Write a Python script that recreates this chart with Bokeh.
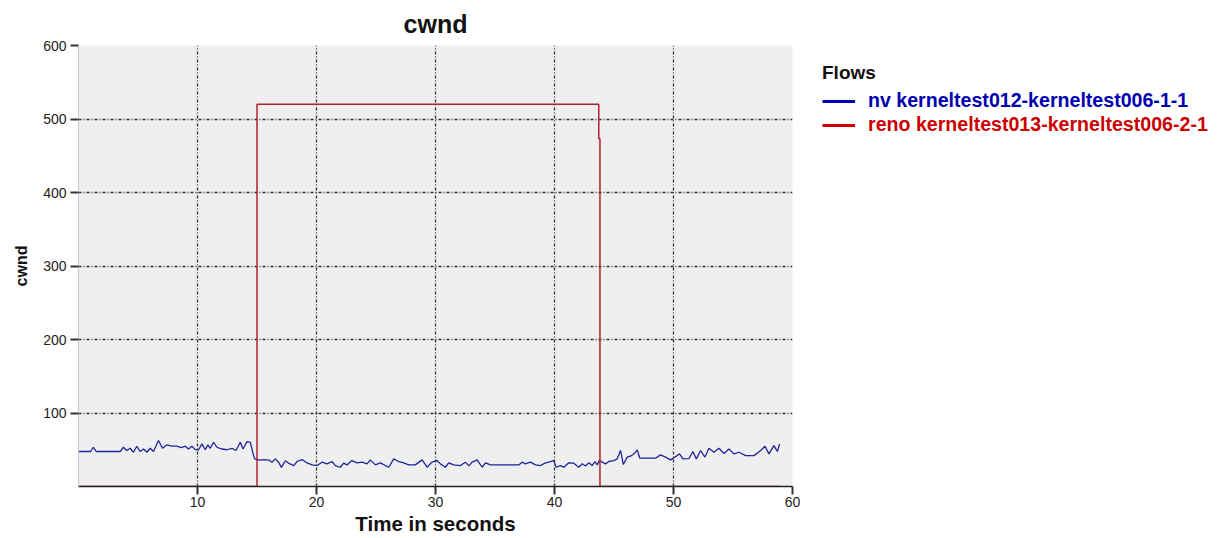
from bokeh.plotting import figure
from bokeh.models import Range1d, FixedTicker, Legend, LegendItem
from bokeh.layouts import row
from bokeh.embed import file_html
from bokeh.resources import INLINE

# ---- data ----
x_ticks = [10, 20, 30, 40, 50, 60]
y_ticks = [100, 200, 300, 400, 500, 600]

blue_name = "nv kerneltest012-kerneltest006-1-1"
red_name = "reno kerneltest013-kerneltest006-2-1"

blue_t = [0.0, 1.0, 1.25, 1.5, 3.5, 3.78, 4.06, 4.34, 4.62, 4.9, 5.18, 5.46, 5.74, 6.02, 6.3,
          6.72, 7.06, 7.42, 7.84, 8.26, 8.63, 8.97, 9.25, 9.53, 9.81, 10.09, 10.37, 10.65,
          10.87, 11.07, 11.35, 11.63, 12.05, 12.47, 12.89, 13.23, 13.6, 13.82, 14.16, 14.44,
          14.64, 14.8, 15.2, 15.6, 16.0, 16.26, 16.54, 16.82, 17.05, 17.39, 17.72, 18.09,
          18.37, 18.79, 19.21, 19.63, 20.05, 20.46, 20.88, 21.3, 21.58, 22.0, 22.28, 22.56,
          22.98, 23.4, 23.83, 24.25, 24.52, 24.95, 25.37, 25.79, 26.07, 26.49, 26.9, 27.33,
          27.75, 28.3, 28.87, 29.3, 29.7, 30.13, 30.41, 30.83, 31.11, 31.53, 32.09, 32.51,
          32.8, 33.08, 33.5, 33.92, 34.2, 34.62, 37.0, 37.28, 37.56, 37.98, 38.4, 38.82,
          39.24, 39.52, 39.94, 40.14, 40.5, 40.78, 41.2, 41.62, 42.04, 42.33, 42.61, 42.89,
          43.17, 43.39, 43.59, 43.78, 44.01, 44.29, 44.57, 44.99, 45.27, 45.55, 45.78,
          46.11, 46.48, 46.81, 46.95, 47.17, 48.49, 48.91, 49.33, 49.76, 50.03, 50.51,
          50.79, 51.3, 51.63, 51.92, 52.28, 52.64, 52.98, 53.4, 53.82, 54.24, 54.66, 55.08,
          55.5, 56.06, 56.76, 57.33, 57.69, 58.02, 58.44, 58.73, 58.92]
blue_v = [47.6, 47.6, 53.4, 47.6, 47.6, 53.4, 49.0, 52.0, 46.6, 54.8, 47.6, 51.0, 46.6, 52.0, 47.6,
          62.5, 52.0, 56.6, 54.8, 54.8, 53.0, 54.8, 51.0, 54.8, 50.2, 50.0, 58.0, 50.0,
          56.6, 52.0, 60.2, 53.4, 51.0, 50.0, 52.0, 49.0, 60.2, 51.0, 61.0, 60.0,
          46.6, 37.6, 36.0, 36.5, 36.0, 33.0, 37.6, 33.0, 26.0, 35.0, 31.0, 28.5,
          34.0, 36.7, 32.0, 29.4, 28.5, 33.1, 30.8, 34.0, 28.5, 26.2, 31.7, 29.4,
          35.3, 32.2, 33.1, 30.8, 36.2, 29.4, 32.2, 28.5, 26.2, 37.6, 34.0, 32.2,
          29.4, 29.4, 36.2, 26.2, 33.1, 35.3, 30.8, 26.2, 32.2, 29.4, 28.5, 33.1,
          28.0, 33.1, 36.2, 26.2, 32.2, 29.4, 29.4, 33.1, 30.8, 33.1, 29.4, 28.5,
          32.2, 33.1, 35.3, 26.2, 28.5, 26.2, 32.2, 31.7, 26.2, 31.0, 28.0, 32.2,
          28.5, 34.0, 29.4, 36.2, 33.1, 30.8, 34.0, 35.3, 37.6, 49.0, 30.0,
          40.0, 42.0, 46.6, 50.0, 38.5, 38.5, 43.0, 40.0, 36.2, 39.0, 44.4,
          37.6, 38.0, 47.6, 37.6, 49.0, 40.0, 52.0, 46.6, 52.0, 45.0, 51.0, 44.4,
          46.6, 42.0, 42.0, 49.0, 54.8, 44.4, 55.7, 47.6, 58.0]

red_t = [0.0, 15.0, 15.0, 43.72, 43.72, 43.82, 43.82, 59.0]
red_v = [0, 0, 520, 520, 473, 473, 0, 0]

BLUE = "#23239a"
RED = "#b3202e"
FONT = "Liberation Sans"

p = figure(width=806, height=538, output_backend="svg", toolbar_location=None,
           x_range=Range1d(0, 60), y_range=Range1d(0, 600),
           min_border_left=78, min_border_right=14, min_border_top=45, min_border_bottom=52,
           title="cwnd")

p.title.text_font = FONT
p.title.text_font_size = "25px"
p.title.text_font_style = "bold"
p.title.align = "center"
p.title.text_color = "#111111"
p.title.text_line_height = 1.1
p.title.standoff = 15

p.background_fill_color = "#efefef"
p.border_fill_color = "white"
p.outline_line_color = None

p.xaxis.ticker = FixedTicker(ticks=x_ticks)
p.yaxis.ticker = FixedTicker(ticks=y_ticks)
p.xgrid.ticker = FixedTicker(ticks=x_ticks)
p.ygrid.ticker = FixedTicker(ticks=y_ticks)
for g in (p.xgrid, p.ygrid):
    g.grid_line_color = "#303030"
    g.grid_line_dash = "3 2 1 2"
    g.grid_line_width = 1.3

for ax in (p.xaxis, p.yaxis):
    ax.minor_tick_line_color = None
    ax.major_tick_in = 0
    ax.major_tick_out = 8
    ax.major_tick_line_width = 2
    ax.major_tick_line_color = "#333333"
    ax.major_label_text_font = FONT
    ax.major_label_text_font_size = "14px"
    ax.major_label_text_color = "#222222"
    ax.axis_label_text_font = FONT
    ax.axis_label_text_font_style = "bold"
    ax.axis_label_text_color = "#111111"

p.xaxis.axis_line_color = "#222222"
p.xaxis.axis_line_width = 1.5
p.xaxis.major_label_standoff = 2
p.xaxis.axis_label = "Time in seconds"
p.xaxis.axis_label_text_font_size = "20.5px"
p.xaxis.axis_label_standoff = 2

p.yaxis.axis_line_color = "#c8c8c8"
p.yaxis.major_label_standoff = 4
p.yaxis.axis_label = "cwnd"
p.yaxis.axis_label_text_font_size = "16px"
p.yaxis.axis_label_standoff = 10

p.line(blue_t, blue_v, line_color=BLUE, line_width=1.3)
p.line(red_t, red_v, line_color=RED, line_width=1.5)

# legend panel to the right of the chart (its frame is aligned with the chart's frame)
q = figure(width=418, height=538, output_backend="svg", toolbar_location=None,
           x_range=Range1d(0, 60), y_range=Range1d(5000, 5001),
           min_border_left=0, min_border_right=0, min_border_top=45, min_border_bottom=52)
q.axis.visible = False
q.grid.visible = False
q.outline_line_color = None
q.background_fill_color = "white"
q.border_fill_color = "white"

# same series, kept outside q's visible range; only their legend swatches show
lb = q.line(blue_t, blue_v, line_color="#0000b0", line_width=3)
lr = q.line(red_t, red_v, line_color="#cc0000", line_width=3)

common = dict(border_line_color=None, background_fill_alpha=0, padding=0, margin=0,
              spacing=0, glyph_width=33, glyph_height=20, label_standoff=13,
              label_text_font=FONT, label_text_font_size="19.6px", label_text_font_style="bold",
              label_height=20)
leg1 = Legend(items=[LegendItem(label=blue_name, renderers=[lb])], location=(16, 374),
              title="Flows", title_text_font=FONT, title_text_font_size="19px",
              title_text_font_style="bold", title_text_color="#111111", title_standoff=5,
              label_text_color="#0000b0", **common)
leg2 = Legend(items=[LegendItem(label=red_name, renderers=[lr])], location=(16, 350),
              label_text_color="#cc0000", **common)
q.add_layout(leg1)
q.add_layout(leg2)

layout = row(p, q, spacing=0)
open("out.html", "w").write(file_html(layout, INLINE))
